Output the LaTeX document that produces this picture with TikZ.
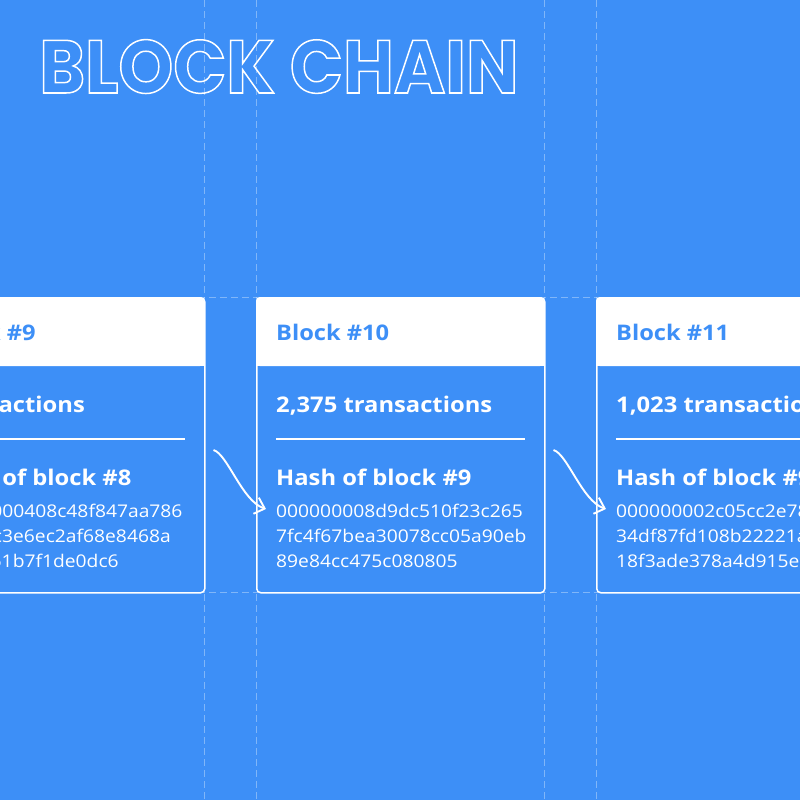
\documentclass[tikz,border=0pt]{standalone}
\usepackage{fontspec}
\setmainfont{Open Sans}[FakeStretch=1.1]
\newfontfamily\titlefont{Poppins}[FakeStretch=0.93]
\usetikzlibrary{arrows.meta,calc}
\definecolor{chainBlue}{RGB}{61,143,247}

\begin{document}
\begin{tikzpicture}[x=1pt,y=-1pt,
    card/.style={draw=white,line width=1.5pt,rounded corners=4pt,minimum width=288pt,minimum height=295pt,inner sep=0pt,anchor=north west},
    guide/.style={white,opacity=0.35,line width=1pt,dash pattern=on 7pt off 4pt},
    head/.style={anchor=base west,inner sep=0pt,text=chainBlue,font=\bfseries\fontsize{21.5}{26}\selectfont},
    label/.style={anchor=base west,inner sep=0pt,text=white,font=\bfseries\fontsize{21.6}{26}\selectfont},
    hash/.style={anchor=base west,inner sep=0pt,text=white,align=left,font=\fontsize{17.5}{25}\selectfont},
    link/.style={white,line width=1.9pt,-{Straight Barb[length=9pt,width=17pt]}}
  ]
  \fill[chainBlue] (0,0) rectangle (800,800);
  \useasboundingbox (0,0) rectangle (800,800);
  % guides
  \foreach \gx in {204,256,544,596} \draw[guide] (\gx,0) -- (\gx,800);
  \foreach \gy in {297,592} \draw[guide] (0,\gy) -- (800,\gy);
  % title
  \node[anchor=base west,inner sep=0pt,text=white,font=\titlefont\bfseries\fontsize{75}{80}\selectfont] (title) at (39,93)
    {\special{pdf:literal direct 1 Tr 1.5 w}BLOCK CHAIN\special{pdf:literal direct 0 Tr}};
  % blocks
  \foreach \i/\bx/\num/\tx/\prev/\ha/\hb/\hc in {
      1/-84/9/{transactions}/8/00000000408c48f847aa786/a71f5fc3e6ec2af68e8468a/0e3a961b7f1de0dc6,
      2/256/10/{2,375 transactions}/9/000000008d9dc510f23c265/7fc4f67bea30078cc05a90eb/89e84cc475c080805,
      3/596/11/{1,023 transactions}/9/000000002c05cc2e78ba41d/34df87fd108b22221ac9e0f2/18f3ade378a4d915e9b4f}{
    \fill[white,rounded corners=4pt] (\bx,297) rectangle (\bx+288,366);
    \fill[white] (\bx,340) rectangle (\bx+288,366);
    \node[card] (b\i) at (\bx,297) {};
    \node[head] (h\i) at (\bx+20,340) {Block \#\num};
    \node[label] (t\i) at (\bx+20,412) {\tx};
    \draw[white,line width=1.5pt] (\bx+20,439) -- (\bx+269,439);
    \node[label] (p\i) at (\bx+20,485) {Hash of block \#\prev};
    \node[hash] (x\i) at (\bx+20,567) {\ha\\\hb\\\hc};
  }
  % links
  \foreach \i/\j in {1/2,2/3}
    \draw[link] ($(b\i.north east)+(8,153)$) .. controls +(14,4) and +(-24,-8) .. ($(b\j.north west)+(10,212)$);
\end{tikzpicture}
\end{document}
